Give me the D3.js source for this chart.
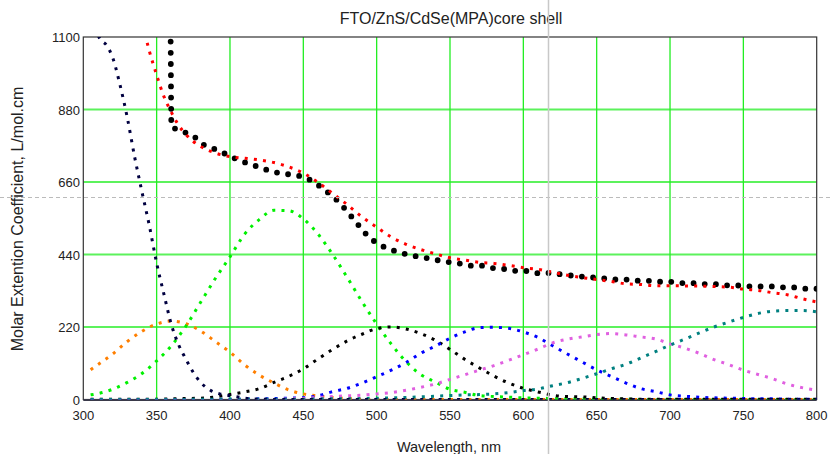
<!DOCTYPE html>
<html>
<head>
<meta charset="utf-8">
<script src="https://cdn.jsdelivr.net/npm/d3@7"></script>
<style>
  body { margin: 0; background: #fff; }
  svg { display: block; font-family: "Liberation Sans", Arial, sans-serif; }
</style>
</head>
<body>
<div id="chart"></div>
<script>
// shared wavelength grid for the fitted component bands
const wl = [305, 310, 320, 330, 340, 350, 360, 370, 380, 390, 400, 410, 420, 430, 440, 450,
  460, 470, 480, 490, 500, 510, 520, 530, 540, 550, 560, 570, 580, 590, 600, 610, 620, 630,
  640, 650, 660, 670, 680, 690, 700, 710, 720, 730, 740, 750, 760, 770, 780, 790, 800];

const orangeBand = [90, 106, 138, 176, 207, 229, 238, 230, 208, 176, 144, 105, 74, 50, 29, 17,
  11, 6, 3, 1, 0, 0, 0, 0, 0, 0, 0, 0, 0, 0, 0, 0, 0, 0, 0, 0, 0, 0, 0, 0, 0, 0, 0, 0, 0, 0, 0, 0, 0, 0, 0];
const greenBand = [14, 18, 31, 52, 79, 117, 163, 223, 295, 367, 433, 502, 546, 574, 573, 548,
  502, 440, 370, 297, 229, 168, 115, 76, 53, 31, 22, 12, 9, 7, 5, 4, 3, 2, 2, 1, 1, 1, 0, 0, 0, 0, 0, 0, 0, 0, 0, 0, 0, 0, 0];
const blackBand = [1, 1, 1, 1, 1, 1, 2, 3, 4, 8, 15, 23, 33, 52, 70, 93,
  123, 152, 178, 198, 215, 220, 214, 200, 180, 152, 122, 96, 71, 50, 34, 23, 13, 9, 8, 5, 3, 2, 1, 1, 1, 1, 1, 1, 1, 1, 1, 1, 1, 1, 1];
const blueBand = [0, 0, 0, 0, 0, 0, 0, 0, 0, 0, 1, 1, 2, 3, 4, 6,
  11, 24, 34, 50, 69, 89, 112, 140, 162, 186, 205, 218, 219, 216, 205, 188, 163, 138, 114, 90, 70, 50, 33, 24, 14, 10, 7, 5, 4, 3, 2, 2, 1, 1, 1];
const pinkBand = [0, 0, 0, 0, 0, 0, 0, 0, 0, 0, 0, 0, 0, 0, 2, 4,
  6, 9, 11, 13, 17, 21, 28, 37, 47, 61, 75, 89, 103, 119, 136, 153, 172, 183, 190, 197, 200, 196, 190, 184, 169, 156, 140, 121, 106, 89, 76, 63, 47, 36, 28];
const tealBand = [0, 0, 0, 0, 0, 0, 0, 0, 1, 1, 1, 1, 1, 1, 1, 1,
  2, 2, 2, 3, 4, 5, 6, 8, 10, 12, 14, 15, 17, 21, 27, 32, 42, 51, 64, 78, 93, 107, 126, 145, 165, 183, 202, 220, 235, 249, 261, 268, 270, 270, 266];

// band edge component (steep UV tail)
const navyWl = [308, 311, 316, 320, 325, 330, 335, 340, 345, 350, 355, 360, 365, 370, 375, 380,
  387, 393, 400, 410, 420, 440, 500, 600, 700, 800];
const navyBand = [1130, 1097, 1074, 1038, 955, 855, 736, 630, 528, 414, 319, 228, 166, 122, 82, 52,
  27, 17, 12, 4, 1, 0, 0, 0, 0, 0];

// sum of the fitted components
const fitWl = [342, 345, 350, 355, 360, 365, 370, 375, 380, 390, 400, 410, 420, 430, 440, 450,
  460, 470, 480, 490, 500, 510, 520, 530, 540, 550, 560, 570, 580, 590, 600, 610, 620, 630,
  640, 650, 660, 670, 680, 690, 700, 720, 740, 750, 760, 770, 780, 790, 800];
const fitTotal = [1110, 1058, 985, 919, 872, 832, 804, 783, 768, 748, 737, 732, 727, 719, 706, 687,
  659, 625, 591, 554, 523, 493, 471, 455, 442, 430, 423, 416, 413, 407, 400, 395, 386, 377,
  370, 364, 358, 351, 349, 345, 345, 344, 341, 335, 331, 324, 318, 306, 296];

// measured spectrum
const measWl = [359.5, 360, 367, 375, 382, 390, 397, 405, 413, 420, 428, 436, 443, 451, 458, 466,
  474, 481, 488, 495, 503, 510, 518, 525, 533, 541, 549, 556, 564, 572, 579, 587, 595, 602,
  610, 618, 625, 633, 640, 648, 656, 663, 671, 679, 686, 694, 702, 709, 717, 724, 732, 740,
  747, 755, 763, 771, 778, 786, 793, 800];
const measured = [1120, 826, 815, 800, 773, 759, 745, 728, 715, 705, 692, 685, 682, 675, 658, 631,
  601, 565, 527, 490, 467, 454, 443, 436, 430, 423, 417, 413, 406, 406, 399, 396, 390, 390,
  383, 384, 380, 376, 373, 370, 367, 364, 364, 360, 360, 357, 357, 353, 353, 350, 350, 346,
  346, 343, 343, 343, 340, 340, 336, 336];

const xTicks = [300, 350, 400, 450, 500, 550, 600, 650, 700, 750, 800];
const yTicks = [0, 220, 440, 660, 880, 1100];

const W = 831, H = 454;
const svg = d3.select("#chart").append("svg").attr("width", W).attr("height", H);

const x = d3.scaleLinear().domain([300, 800]).range([83.3, 816.7]);
const y = d3.scaleLinear().domain([0, 1100]).range([399.5, 37]);

svg.append("defs").append("clipPath").attr("id", "plot")
  .append("rect").attr("x", x(300)).attr("y", y(1100))
  .attr("width", x(800) - x(300)).attr("height", y(0) - y(1100));

// grid
svg.append("g").selectAll("line").data(yTicks.slice(1, -1)).join("line")
  .attr("x1", x(300)).attr("x2", x(800))
  .attr("y1", d => y(d)).attr("y2", d => y(d))
  .attr("stroke", "#5cf25c").attr("stroke-width", 2);
svg.append("g").selectAll("line").data(xTicks.slice(1, -1)).join("line")
  .attr("x1", d => x(d)).attr("x2", d => x(d))
  .attr("y1", y(0)).attr("y2", y(1100))
  .attr("stroke", "#22ee22").attr("stroke-width", 1.3);

// frame
svg.append("rect").attr("x", x(300)).attr("y", y(1100))
  .attr("width", x(800) - x(300)).attr("height", y(0) - y(1100))
  .attr("fill", "none").attr("stroke", "#333").attr("stroke-width", 1.2);
svg.append("line").attr("x1", x(300)).attr("x2", x(800)).attr("y1", y(0) + 0.5).attr("y2", y(0) + 0.5)
  .attr("stroke", "#3a3a4a").attr("stroke-width", 2);

const line = d3.line().x(d => x(d[0])).y(d => y(d[1]));
const smooth = d3.line().x(d => x(d[0])).y(d => y(d[1])).curve(d3.curveMonotoneX);

const plot = svg.append("g").attr("clip-path", "url(#plot)");

function dotted(xs, ys, color, gen) {
  plot.append("path")
    .attr("d", gen(xs.map((v, i) => [v, ys[i]])))
    .attr("fill", "none")
    .attr("stroke", color)
    .attr("stroke-width", 3)
    .attr("stroke-dasharray", "3 6.2");
}

// measured spectrum as big round dots
plot.append("path")
  .attr("d", line(measWl.map((v, i) => [v, measured[i]])))
  .attr("fill", "none")
  .attr("stroke", "#000")
  .attr("stroke-width", 5.8)
  .attr("stroke-linecap", "round")
  .attr("stroke-dasharray", "0 11.2");

dotted(wl, orangeBand, "#ff7f00", smooth);
dotted(wl, greenBand, "#00f000", smooth);
dotted(wl, blackBand, "#000", smooth);
dotted(wl, blueBand, "#0000ff", smooth);
dotted(wl, pinkBand, "#e060e0", smooth);
dotted(wl, tealBand, "#008080", smooth);
dotted(navyWl, navyBand, "#000040", smooth);
dotted(fitWl, fitTotal, "#ff0000", smooth);

// tick labels
svg.append("g").selectAll("text").data(xTicks).join("text")
  .attr("x", d => x(d)).attr("y", 420)
  .attr("text-anchor", "middle").attr("font-size", 13).attr("fill", "#222")
  .text(d => d);
svg.append("g").selectAll("text").data(yTicks).join("text")
  .attr("x", 80).attr("y", d => y(d) + 5)
  .attr("text-anchor", "end").attr("font-size", 13).attr("fill", "#222")
  .text(d => d);

svg.append("text").attr("x", 451).attr("y", 24)
  .attr("text-anchor", "middle").attr("font-size", 16).attr("fill", "#222")
  .text("FTO/ZnS/CdSe(MPA)core shell");
svg.append("text").attr("x", 449).attr("y", 452)
  .attr("text-anchor", "middle").attr("font-size", 14.5).attr("fill", "#222")
  .text("Wavelength, nm");
svg.append("text")
  .attr("transform", "translate(23,219) rotate(-90)")
  .attr("text-anchor", "middle").attr("font-size", 16).attr("fill", "#222")
  .text("Molar Extention Coefficient, L/mol.cm");

// cursor crosshair
svg.append("line").attr("x1", 0).attr("x2", W).attr("y1", 197.5).attr("y2", 197.5)
  .attr("stroke", "#bbb").attr("stroke-dasharray", "4 3");
svg.append("line").attr("x1", 548.5).attr("x2", 548.5).attr("y1", 0).attr("y2", H)
  .attr("stroke", "#c8c8c8").attr("stroke-width", 1.5);
</script>
</body>
</html>
